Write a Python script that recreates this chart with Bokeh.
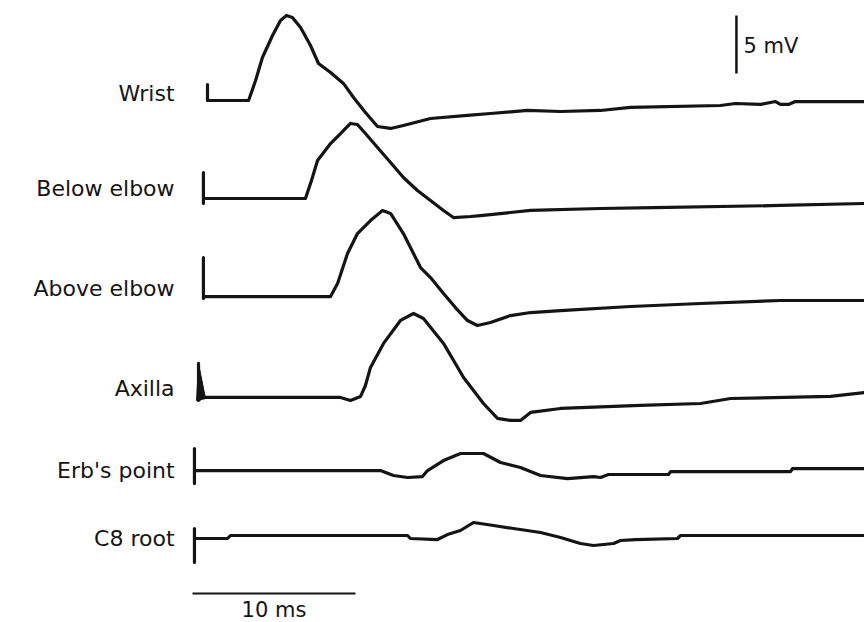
from bokeh.plotting import figure
from bokeh.models import Range1d
from bokeh.core.properties import value
from bokeh.embed import file_html
from bokeh.resources import INLINE

# ---- data: time (ms) and amplitude (mV, relative to each trace's baseline) ----
wrist_t = [0.92, 0.92, 3.44, 3.87, 4.29, 4.91, 5.40, 5.77, 6.13, 6.63, 7.24, 7.73, 8.47, 9.26, 9.88,
           10.61, 11.35, 12.15, 12.94, 14.60, 16.87, 18.28, 20.55, 22.58, 25.03, 26.87, 32.39, 33.31,
           34.85, 35.77, 36.07, 36.56, 36.99, 41.23]
wrist_v = [1.38, 0.0, 0.0, 1.72, 3.71, 5.60, 6.90, 7.33, 7.16, 6.29, 4.74, 3.19, 2.41, 1.47, 0.26,
           -1.03, -2.24, -2.41, -2.16, -1.55, -1.29, -1.12, -0.86, -0.95, -0.86, -0.60, -0.43, -0.26,
           -0.34, -0.09, -0.34, -0.34, -0.09, -0.09]

below_t = [0.67, 0.67, 0.67, 6.93, 7.30, 7.67, 8.47, 9.08, 9.69, 10.12, 10.61, 11.35, 12.15, 12.94,
           13.80, 14.60, 15.40, 16.01, 17.06, 17.67, 20.74, 25.03, 28.28, 36.07, 41.23]
below_v = [2.24, -0.43, 0.0, 0.0, 1.55, 3.28, 4.74, 5.60, 6.47, 6.38, 5.60, 4.40, 3.10, 1.81,
           0.69, -0.17, -1.03, -1.64, -1.55, -1.47, -1.03, -0.86, -0.78, -0.60, -0.43]

above_t = [0.67, 0.67, 0.67, 8.47, 8.90, 9.51, 10.12, 10.92, 11.66, 12.15, 12.94, 13.99, 14.60,
           15.40, 16.13, 16.87, 17.48, 18.28, 19.51, 20.74, 22.58, 26.87, 31.17, 36.07, 41.23]
above_v = [3.36, -0.17, 0.0, 0.0, 1.12, 3.71, 5.43, 6.55, 7.41, 7.16, 5.43, 2.50, 1.64,
           0.26, -0.95, -2.07, -2.50, -2.24, -1.64, -1.38, -1.21, -0.86, -0.60, -0.34, -0.34]

axilla_t = [0.37, 0.37, 0.55, 9.08, 9.69, 10.31, 10.61, 10.92, 11.72, 12.76, 13.56, 14.17, 15.40,
            16.63, 17.85, 18.71, 19.51, 20.12, 20.74, 22.58, 27.48, 31.17, 33.01, 39.14, 41.23]
axilla_v = [2.93, -0.26, 0.0, 0.0, -0.26, 0.09, 1.03, 2.59, 4.66, 6.64, 7.24, 6.81, 4.66,
            1.72, -0.52, -1.81, -1.98, -1.98, -1.29, -0.95, -0.69, -0.52, -0.09, 0.09, 0.43]
# stimulus artefact wedge on the axilla trace
axilla_stim_t = [0.25, 0.37, 0.80]
axilla_stim_v = [-0.26, 2.93, -0.10]

erb_t = [0.12, 0.12, 0.12, 11.53, 12.33, 13.19, 14.11, 14.42, 15.40, 16.44, 17.85, 18.90, 20.12,
         21.35, 23.01, 24.60, 25.03, 25.52, 29.20, 29.33, 36.69, 36.81, 41.23]
erb_v = [1.90, -1.12, 0.0, 0.0, -0.43, -0.60, -0.52, 0.0, 0.86, 1.47, 1.47, 0.69, 0.26,
         -0.43, -0.69, -0.52, -0.60, -0.34, -0.34, -0.09, -0.09, 0.17, 0.17]

c8_t = [0.12, 0.12, 0.12, 2.15, 2.33, 13.19, 13.37, 15.03, 15.64, 16.44, 17.24, 18.47, 19.69,
        21.35, 22.58, 23.80, 24.60, 25.83, 26.26, 27.18, 29.75, 29.94, 41.23]
c8_v = [0.86, -2.07, 0.0, 0.0, 0.26, 0.26, 0.0, -0.09, 0.34, 0.69, 1.38, 1.12, 0.86,
        0.52, 0.09, -0.43, -0.60, -0.43, -0.17, -0.09, 0.0, 0.26, 0.26]

labels = ["Wrist", "Below elbow", "Above elbow", "Axilla", "Erb's point", "C8 root"]
traces_t = [wrist_t, below_t, above_t, axilla_t, erb_t, c8_t]
traces_v = [wrist_v, below_v, above_v, axilla_v, erb_v, c8_v]

# ---- layout (vertical stacking offsets in mV, label positions) ----
offsets = [-8.62, -17.07, -25.52, -34.22, -40.52, -46.38]
label_y = [-8.02, -16.21, -24.83, -33.45, -40.52, -46.38]

ink = "#141414"
font = value("DejaVu Sans")

p = figure(width=864, height=622, output_backend="svg", toolbar_location=None,
           x_range=Range1d(-192 / 16.3, 672 / 16.3), y_range=Range1d(-622 / 11.6, 0),
           min_border=0)
p.axis.visible = False
p.grid.visible = False
p.outline_line_color = None
p.background_fill_color = "white"
p.border_fill_color = "white"

for t, v, off in zip(traces_t, traces_v, offsets):
    p.line(list(t), [off + vi for vi in v], line_color=ink, line_width=3.2,
           line_join="round", line_cap="round")

p.patch(axilla_stim_t, [offsets[3] + vi for vi in axilla_stim_v], fill_color=ink,
        line_color=ink, line_width=1)

p.text(x=[-1.10] * len(labels), y=label_y, text=labels, text_align="right",
       text_baseline="middle", text_font=font, text_font_size="22px", text_color=ink)

# scale bars
p.line([33.37, 33.37], [-1.29, -6.29], line_color=ink, line_width=2.5)
p.text(x=[33.80], y=[-3.88], text=["5 mV"], text_align="left", text_baseline="middle",
       text_font=font, text_font_size="21px", text_color=ink)
p.line([0, 10], [-51.12, -51.12], line_color=ink, line_width=2)
p.text(x=[5.0], y=[-52.50], text=["10 ms"], text_align="center", text_baseline="middle",
       text_font=font, text_font_size="21px", text_color=ink)

open("out.html", "w").write(file_html(p, INLINE))
